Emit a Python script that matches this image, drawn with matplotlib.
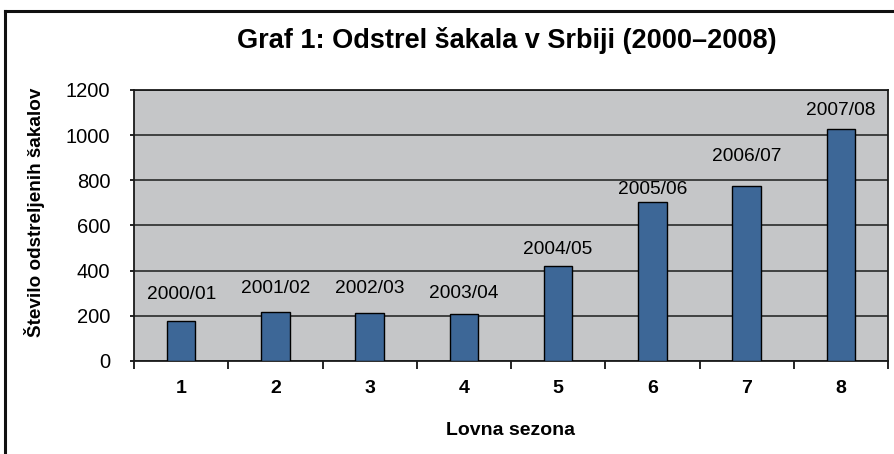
import matplotlib.pyplot as plt
from matplotlib.lines import Line2D

# Data
seasons = [1, 2, 3, 4, 5, 6, 7, 8]
season_labels = ['2000/01', '2001/02', '2002/03', '2003/04',
                 '2004/05', '2005/06', '2006/07', '2007/08']
culled = [177, 215, 214, 207, 419, 702, 776, 1027]
yticks = [0, 200, 400, 600, 800, 1000, 1200]

# gap (points) between bar top and its label, as placed in the original
label_gap = [13, 11, 11, 9, 6, 3, 15, 7]

plt.rcParams['font.family'] = ['Liberation Sans', 'DejaVu Sans']

fig = plt.figure(figsize=(8.95, 4.54), dpi=100)
ax = fig.add_axes([134 / 895, 93 / 454, 754 / 895, 271 / 454])

ax.set_facecolor('#c5c6c8')
ax.bar(seasons, culled, width=0.3, color='#3d6797', edgecolor='black',
       linewidth=1.0, zorder=3)

for x, v, lab, gap in zip(seasons, culled, season_labels, label_gap):
    ax.annotate(lab, (x, v), xytext=(0, gap), textcoords='offset points',
                ha='center', va='bottom', fontsize=13.8)

ax.set_xlim(0.5, 8.5)
ax.set_ylim(0, 1200)
ax.set_yticks(yticks)
ax.yaxis.grid(True, color='#2a2a2a', linewidth=1.2, zorder=1)
ax.set_axisbelow(True)

ax.set_xticks(seasons)
ax.set_xticks([s - 0.5 for s in seasons] + [8.5], minor=True)
ax.tick_params(axis='x', which='major', length=0, labelsize=14, pad=14)
ax.tick_params(axis='x', which='minor', length=6, width=1.2, direction='out')
ax.tick_params(axis='y', length=3, width=1.2, labelsize=14.5, pad=14)
for t in ax.get_xticklabels():
    t.set_fontweight('bold')

for sp in ax.spines.values():
    sp.set_linewidth(1.3)
    sp.set_color('#1a1a1a')

ax.set_xlabel('Lovna sezona', fontsize=14, fontweight='bold', labelpad=18)
fig.text(35 / 895, 1 - 212 / 454, 'Število odstreljenih šakalov', rotation=90,
         ha='center', va='center', fontsize=13.6, fontweight='bold')
fig.text(507 / 895, 1 - 40 / 454, 'Graf 1: Odstrel šakala v Srbiji (2000–2008)',
         ha='center', va='center', fontsize=19.5, fontweight='bold')

# frame lines along the top and left edge of the figure
fig.add_artist(Line2D([5.5 / 895, 5.5 / 895], [0, 1 - 10.5 / 454],
                      transform=fig.transFigure, color='#111111', linewidth=2.2))
fig.add_artist(Line2D([5.5 / 895, 1], [1 - 10.5 / 454, 1 - 10.5 / 454],
                      transform=fig.transFigure, color='#111111', linewidth=2.2))

fig.savefig('out.png', dpi=100)
